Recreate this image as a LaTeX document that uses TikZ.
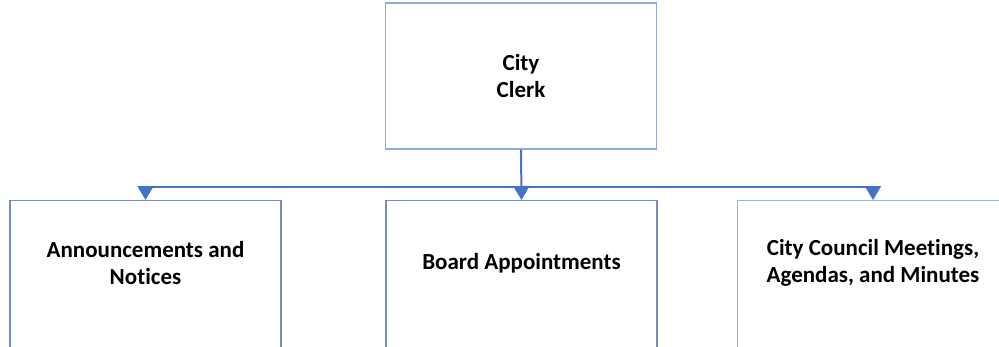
\documentclass[tikz,border=0pt]{standalone}
\usepackage{fontspec}
\setmainfont{Carlito}[Ligatures=NoCommon]
\usetikzlibrary{arrows.meta}
\definecolor{linkblue}{HTML}{4472C4}
\definecolor{topblue}{HTML}{8FAADC}
\definecolor{midblue}{HTML}{7C8DB5}
\definecolor{rightblue}{HTML}{9FB4D8}
\begin{document}
\begin{tikzpicture}[x=1pt,y=-1pt,
    box/.style={draw=#1,line width=1.3pt,minimum width=271pt,minimum height=160pt,inner sep=0pt},
    lbl/.style={font=\fontsize{23}{27}\selectfont\bfseries,align=center},
    link/.style={draw=linkblue,line width=2pt,-{Triangle[width=16pt,length=14pt]}}]
      \useasboundingbox (0,0) rectangle (999,346);
      \node[box=topblue,minimum height=146pt,lbl] (clerk) at (521,76) {City\\Clerk};
      \node[box=midblue,anchor=north] (ann) at (145.5,200) {};
      \node[box=midblue,anchor=north] (appt) at (521.5,200) {};
      \node[box=rightblue,anchor=north] (council) at (873,200) {};
      \node[lbl] (anntext) at ([yshift=-63]ann.north) {Announcements and\\Notices};
      \node[lbl] (appttext) at ([yshift=-63]appt.north) {Board Appointments};
      \node[lbl] (counciltext) at ([yshift=-63]council.north) {City Council Meetings,\\Agendas, and Minutes};
      \coordinate (bus) at (521,187);
      \draw[link] (clerk.south) -- (appt.north);
      \draw[link] (bus) -| (ann.north);
      \draw[link] (bus) -| (council.north);
\end{tikzpicture}
\end{document}
